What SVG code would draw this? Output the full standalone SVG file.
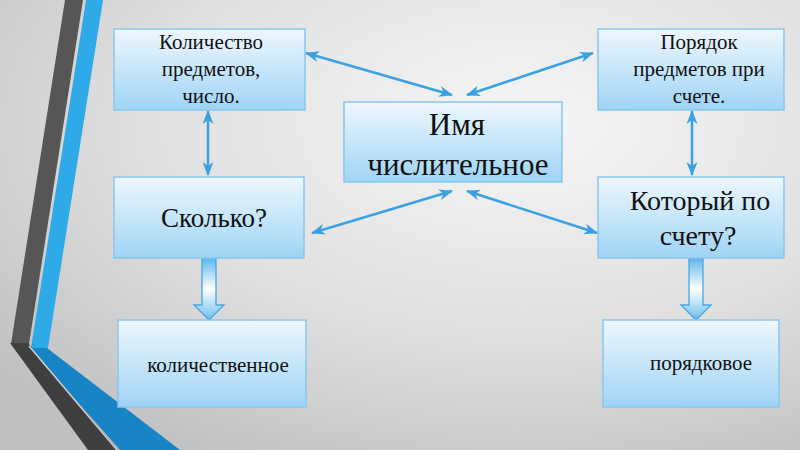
<svg xmlns="http://www.w3.org/2000/svg" width="800" height="450" viewBox="0 0 800 450">
<defs>
<radialGradient id="bg" cx="0.65" cy="0.28" r="0.85">
<stop offset="0" stop-color="#f6f6f6"/>
<stop offset="0.55" stop-color="#e0e0e0"/>
<stop offset="1" stop-color="#bfc0c1"/>
</radialGradient>
<linearGradient id="box" x1="0" y1="0" x2="0" y2="1">
<stop offset="0" stop-color="#eef7fd"/>
<stop offset="0.5" stop-color="#c6e6f9"/>
<stop offset="1" stop-color="#9fd3f4"/>
</linearGradient>
<linearGradient id="blk" x1="0" y1="0" x2="0" y2="1">
<stop offset="0" stop-color="#5db6ec"/>
<stop offset="0.5" stop-color="#ffffff"/>
<stop offset="1" stop-color="#6cbdee"/>
</linearGradient>
<marker id="ah" viewBox="0 0 14 11" markerWidth="14" markerHeight="11" refX="13" refY="5.5" orient="auto-start-reverse" markerUnits="userSpaceOnUse">
<path d="M0,0 L14,5.5 L0,11 L4,5.5 z" fill="#3aa2e2"/>
</marker>
<style>
.bx{fill:url(#box);stroke:#8ac6ec;stroke-width:1.5}
.t{fill:#111;text-anchor:middle}
.ln{stroke:#3aa2e2;stroke-width:2.5;fill:none;marker-start:url(#ah);marker-end:url(#ah)}
.ba{fill:url(#blk);stroke:#45a6e2;stroke-width:1.3}
</style>
</defs>
<rect x="0" y="0" width="800" height="450" fill="url(#bg)"/>
<g id="decor">
<polygon points="65,0 83,0 29,344 11,344" fill="#565656"/>
<polygon points="86,0 103,0 48,348 31,348" fill="#2eaae9"/>
<polygon points="10,343 28,343 118,450 88,450" fill="#3f3f3f"/>
<polygon points="30,348 47,348 180,450 120,450" fill="#1784c6"/>
<line x1="29" y1="346" x2="117" y2="450" stroke="#d0d0d0" stroke-width="1.5"/>
</g>
<g id="connectors">
<line class="ln" x1="306" y1="53" x2="452" y2="95"/>
<line class="ln" x1="593" y1="53" x2="467" y2="95"/>
<line class="ln" x1="452" y1="191" x2="312" y2="233"/>
<line class="ln" x1="467" y1="191" x2="597" y2="233"/>
<line class="ln" x1="208" y1="111" x2="208" y2="175"/>
<line class="ln" x1="692" y1="111" x2="692" y2="175"/>
<polygon class="ba" points="202,258 216,258 216,305 224,305 209,320 194,305 202,305"/>
<polygon class="ba" points="689,258 703,258 703,305 711,305 696,320 681,305 689,305"/>
</g>
<g id="n-kolichestvo">
<rect class="bx" x="114" y="29" width="191" height="81"/>
<text class="t" font-family="Liberation Serif" font-size="21" x="211" y="49">Количество</text>
<text class="t" font-family="Liberation Serif" font-size="21" x="211" y="76">предметов,</text>
<text class="t" font-family="Liberation Serif" font-size="21" x="211" y="103">число.</text>
</g>
<g id="n-poryadok">
<rect class="bx" x="598" y="29" width="186" height="81"/>
<text class="t" font-family="Liberation Serif" font-size="21" x="699" y="49">Порядок</text>
<text class="t" font-family="Liberation Serif" font-size="21" x="699" y="76">предметов при</text>
<text class="t" font-family="Liberation Serif" font-size="21" x="699" y="103">счете.</text>
</g>
<g id="n-imya">
<rect class="bx" x="344" y="102" width="218" height="80"/>
<text class="t" font-family="Liberation Serif" font-size="31" x="457" y="135">Имя</text>
<text class="t" font-family="Liberation Serif" font-size="31" x="458" y="175">числительное</text>
</g>
<g id="n-skolko">
<rect class="bx" x="114" y="177" width="190" height="81"/>
<text class="t" font-family="Liberation Serif" font-size="27" x="214" y="227">Сколько?</text>
</g>
<g id="n-kotoryi">
<rect class="bx" x="598" y="177" width="186" height="81"/>
<text class="t" font-family="Liberation Serif" font-size="28" x="700" y="210">Который по</text>
<text class="t" font-family="Liberation Serif" font-size="28" x="698" y="245">счету?</text>
</g>
<g id="n-kolichestvennoe">
<rect class="bx" x="118" y="320" width="188" height="87"/>
<text class="t" font-family="Liberation Serif" font-size="21" x="218" y="372">количественное</text>
</g>
<g id="n-poryadkovoe">
<rect class="bx" x="603" y="320" width="176" height="87"/>
<text class="t" font-family="Liberation Serif" font-size="21" x="701" y="370">порядковое</text>
</g>
</svg>
